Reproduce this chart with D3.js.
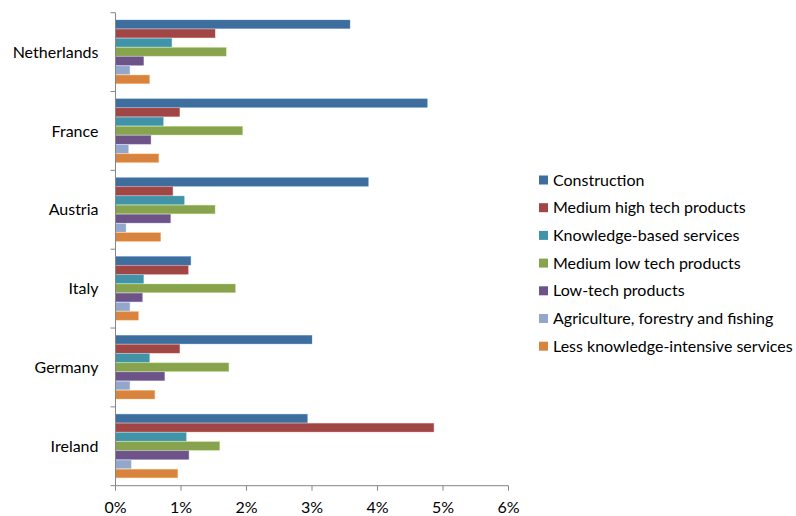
<!DOCTYPE html>
<html><head><meta charset="utf-8">
<script src="https://cdn.jsdelivr.net/npm/d3@7"></script>
<style>body{margin:0;background:#fff}text{font-family:Lato,"Open Sans",sans-serif;fill:#000}</style>
</head><body><svg id="c" width="796" height="516"></svg>
<script>
const countries = ["Netherlands","France","Austria","Italy","Germany","Ireland"];
const seriesNames = ["Construction","Medium high tech products","Knowledge-based services","Medium low tech products","Low-tech products","Agriculture, forestry and fishing","Less knowledge-intensive services"];
const seriesColors = ["#3D6E9E","#A04644","#4393A8","#87A34D","#6C5489","#93A7CD","#D8843F"];
const construction = [3.58,4.76,3.86,1.15,3.00,2.93];
const mediumHigh   = [1.52,0.98,0.875,1.11,0.98,4.86];
const knowledge    = [0.86,0.73,1.05,0.43,0.52,1.08];
const mediumLow    = [1.69,1.94,1.52,1.83,1.73,1.59];
const lowTech      = [0.43,0.54,0.84,0.41,0.75,1.12];
const agriculture  = [0.22,0.20,0.16,0.22,0.22,0.24];
const lessKnow     = [0.52,0.66,0.69,0.35,0.60,0.95];
const xTicks = [0,1,2,3,4,5,6];
const seriesValues = [construction,mediumHigh,knowledge,mediumLow,lowTech,agriculture,lessKnow];

const svg = d3.select("#c");
const x0 = 115.5, x1 = 508.5, yTop = 12.7, yBot = 485.7;
const x = d3.scaleLinear().domain([0,6]).range([x0,x1]);
const y = d3.scaleBand().domain(countries).range([yTop,yBot]).padding(0);
const bw = y.bandwidth();
const pad = bw*0.0925;
const ys = d3.scaleBand().domain(seriesNames).range([pad,bw-pad]).padding(0);

const g = svg.append("g");
countries.forEach((c,ci)=>{
  seriesNames.forEach((s,si)=>{
    const v = seriesValues[si][ci];
    g.append("rect")
      .attr("x", x(0)).attr("y", y(c)+ys(s))
      .attr("width", x(v)-x(0)).attr("height", ys.bandwidth()-0.6)
      .attr("fill", seriesColors[si])
      .attr("stroke", d3.color(seriesColors[si]).brighter(0.8)).attr("stroke-width",0.6).attr("stroke-opacity",0.6);
  });
});

// y axis
const ya = svg.append("g").attr("transform",`translate(${x0},0)`);
ya.append("line").attr("x1",0).attr("x2",0).attr("y1",yTop).attr("y2",yBot).attr("stroke","#868686");
const bounds = countries.map(c=>y(c)).concat([yBot]);
bounds.forEach(b=>ya.append("line").attr("x1",-5).attr("x2",0).attr("y1",b).attr("y2",b).attr("stroke","#868686"));
countries.forEach(c=>ya.append("text").attr("x",-17).attr("y",y(c)+bw/2).attr("dy","0.35em")
  .attr("text-anchor","end").style("font-size","16px").text(c));

// x axis
const xa = svg.append("g").attr("transform",`translate(0,${yBot})`);
xa.append("line").attr("x1",x0).attr("x2",x1).attr("y1",0).attr("y2",0).attr("stroke","#868686");
xTicks.forEach(t=>{
  xa.append("line").attr("x1",x(t)).attr("x2",x(t)).attr("y1",0).attr("y2",5).attr("stroke","#868686");
  xa.append("text").attr("x",x(t)).attr("y",22).attr("dy","0.35em").attr("text-anchor","middle")
    .style("font-size","16px").text(t+"%");
});

// legend
const lg = svg.append("g");
seriesNames.forEach((s,i)=>{
  const cy = 180 + i*27.7;
  lg.append("rect").attr("x",539).attr("y",cy-4.5).attr("width",9).attr("height",9).attr("fill",seriesColors[i]);
  lg.append("text").attr("x",553).attr("y",cy).attr("dy","0.35em").style("font-size","16px").text(s);
});
</script></body></html>
